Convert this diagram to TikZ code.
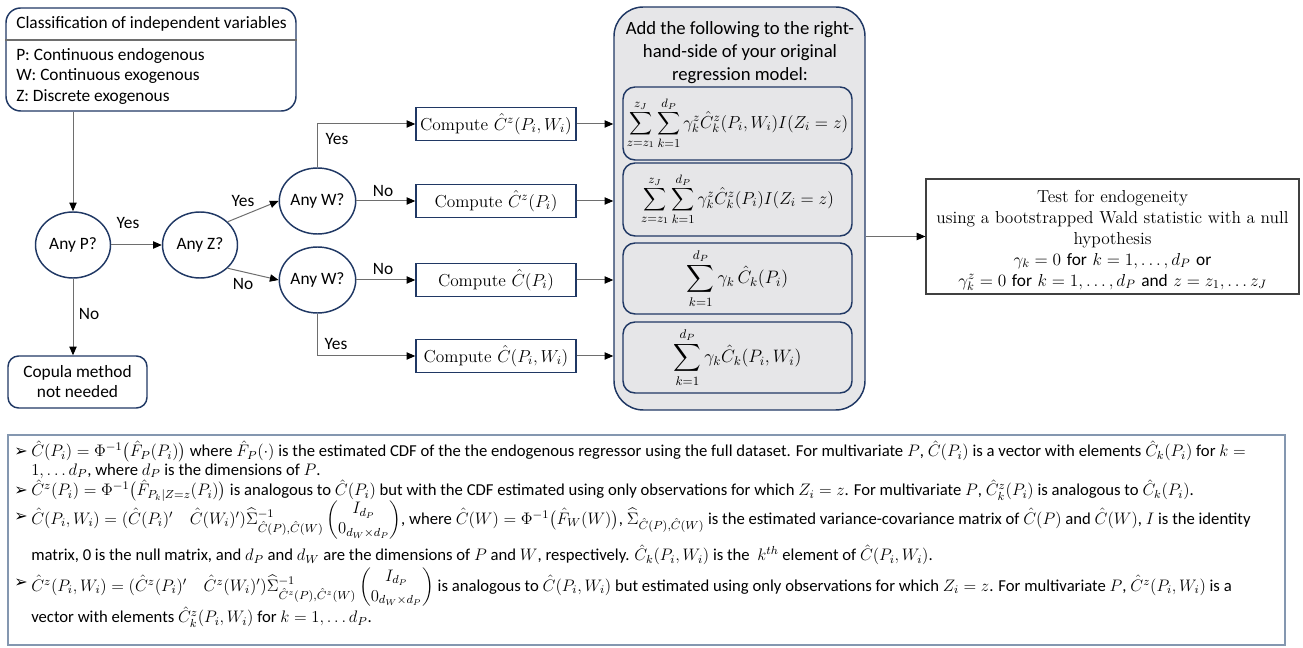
\RequirePackage{fix-cm}
\documentclass[tikz,border=0pt]{standalone}
\usepackage{amsmath}
\usepackage{fontspec}
\setsansfont{Carlito}
\newfontfamily\dejavu{DejaVu Sans}
\usetikzlibrary{shapes.geometric,arrows.meta,calc}
\definecolor{navy}{HTML}{203864}
\definecolor{panelfill}{HTML}{E6E6E8}
\definecolor{linegray}{HTML}{6E6E6E}
\definecolor{notecol}{HTML}{8497B0}
\definecolor{boxgray}{HTML}{404040}
\begin{document}
\begin{tikzpicture}[x=0.75pt,y=-0.75pt,
  every node/.style={font=\sffamily\fontsize{13}{15}\selectfont, inner sep=0pt},
  decision/.style={ellipse, draw=navy, line width=1.1pt, minimum width=56.25pt, minimum height=49.5pt, inner sep=0pt},
  arr/.style={draw=linegray, line width=0.75pt, -{Triangle[length=6.5pt,width=5.5pt,color=black]}},
  lbl/.style={font=\sffamily\fontsize{13}{15}\selectfont},
  compbox/.style={draw=navy, line width=1.1pt, minimum width=120pt, minimum height=24.75pt, font=\rmfamily\fontsize{13}{15}\selectfont},
  innerbox/.style={draw=navy, line width=1.1pt, rounded corners=9pt, fill=panelfill, minimum width=171.75pt, font=\sffamily\fontsize{13}{15}\selectfont},
  noteline/.style={anchor=west, font=\sffamily\fontsize{12.5}{15}\selectfont},
  bullet/.style={font=\dejavu\fontsize{12}{14}\selectfont}
]
\useasboundingbox (0,0) rectangle (1303,648);

% classification box
\node[draw=navy, line width=1.1pt, rounded corners=11pt, minimum width=217.5pt, minimum height=77.25pt] (cls) at (151,59.5) {};
\draw[linegray, line width=0.8pt] (cls.west |- 0,40) -- (cls.east |- 0,40);
\node[anchor=west] (clsT) at (16,24) {Classification of independent variables};
\node[anchor=west] (clsP) at (16,56) {P: Continuous endogenous};
\node[anchor=west] (clsW) at (16,76) {W: Continuous exogenous};
\node[anchor=west] (clsZ) at (16,97) {Z: Discrete exogenous};

% decisions
\node[decision] (anyP) at (73,245) {Any P?};
\node[decision] (anyZ) at (200,245) {Any Z?};
\node[decision] (w1) at (317.5,201) {Any W?};
\node[decision] (w2) at (317.5,280) {Any W?};
\node[draw=navy, line width=1.1pt, rounded corners=8pt, minimum width=104.25pt, minimum height=39pt, align=center] (cop) at (77.5,382) {Copula method\\not needed};

% compute boxes
\node[compbox] (c1) at (496,124) {Compute $\hat{C}^z(P_i,W_i)$};
\node[compbox] (c2) at (496,201) {Compute $\hat{C}^z(P_i)$};
\node[compbox] (c3) at (496,280) {Compute $\hat{C}(P_i)$};
\node[compbox] (c4) at (496,356) {Compute $\hat{C}(P_i,W_i)$};

% panel
\node[draw=navy, line width=1.1pt, fill=panelfill, rounded corners=22pt, minimum width=188.25pt, minimum height=302.25pt] (panel) at (739.5,208.5) {};
\node[align=center, font=\sffamily\fontsize{14}{17.25}\selectfont] (hdr) at (740,53) {Add the following to the right-\\hand-side of your original\\regression model:};
\node[innerbox, minimum height=54.75pt] (f1) at (737.5,123.5) {$\displaystyle\sum_{z=z_1}^{z_J}\sum_{k=1}^{d_P}\gamma_k^z\hat{C}_k^z(P_i,W_i)I(Z_i=z)$};
\node[innerbox, minimum height=54.75pt] (f2) at (737.5,199.5) {$\displaystyle\sum_{z=z_1}^{z_J}\sum_{k=1}^{d_P}\gamma_k^z\hat{C}_k^z(P_i)I(Z_i=z)$};
\node[innerbox, minimum height=53.25pt, font=\sffamily\fontsize{13.5}{16}\selectfont] (f3) at (737.5,278.5) {$\displaystyle\sum_{k=1}^{d_P}\gamma_k\,\hat{C}_k(P_i)$};
\node[innerbox, minimum height=53.25pt, font=\sffamily\fontsize{13.5}{16}\selectfont] (f4) at (737.5,357.5) {$\displaystyle\sum_{k=1}^{d_P}\gamma_k\hat{C}_k(P_i,W_i)$};

% test box
\node[draw=boxgray, line width=0.9pt, minimum width=279.75pt, minimum height=86.25pt] (test) at (1112.5,236.5) {};
\node[align=center, font=\rmfamily\fontsize{13}{15.75}\selectfont] (testT) at (1112.5,240.5)
 {Test for endogeneity\\using a bootstrapped Wald statistic with a null\\hypothesis\\
  $\gamma_k=0$ {\sffamily for} $k=1,\ldots,d_P$ {\sffamily or}\\
  $\gamma_k^z=0$ {\sffamily for} $k=1,\ldots,d_P$ {\sffamily and} $z=z_1,\ldots z_J$};

% connectors
\draw[arr] (cls.south -| anyP.north) -- (anyP.north);
\draw[arr] (anyP.east) -- (anyZ.west);
\draw[arr] (anyP.south) -- (cop.north -| anyP.south);
\draw[arr] (anyZ.40) -- (w1.west);
\draw[arr] (anyZ.-40) -- (w2.west);
\draw[arr] (w1.north) |- (c1.west);
\draw[arr] (w1.east) -- (c2.west);
\draw[arr] (w2.east) -- (c3.west);
\draw[arr] (w2.south) |- (c4.west);
\draw[arr] (c1.east) -- (c1.east -| panel.west);
\draw[arr] (c2.east) -- (c2.east -| panel.west);
\draw[arr] (c3.east) -- (c3.east -| panel.west);
\draw[arr] (c4.east) -- (c4.east -| panel.west);
\draw[arr] (panel.east |- test.west) -- (test.west);

% labels
\node[lbl] (yPZ) at (128,223) {Yes};
\node[lbl] (nP) at (89,314) {No};
\node[lbl] (yZ) at (243,201) {Yes};
\node[lbl] (nZ) at (243,284) {No};
\node[lbl] (yW1) at (337,139) {Yes};
\node[lbl] (nW1) at (383,191) {No};
\node[lbl] (nW2) at (383,269) {No};
\node[lbl] (yW2) at (336,344) {Yes};

% notes
\node[draw=notecol, line width=1.1pt, minimum width=957.75pt, minimum height=157.5pt] (notes) at (646.5,540) {};
\node[bullet] (b1) at (21,452) {➢};
\node[noteline] (t1) at (31,452) {$\hat{C}(P_i)=\Phi^{-1}\big(\hat{F}_P(P_i)\big)$ where $\hat{F}_P(\cdot)$ is the estimated CDF of the the endogenous regressor using the full dataset. For multivariate $P$, $\hat{C}(P_i)$ is a vector with elements $\hat{C}_k(P_i)$ for $k={}$};
\node[noteline] (t1b) at (31,471) {$1,\ldots d_P$, where $d_P$ is the dimensions of $P$.};
\node[bullet] (b2) at (21,491) {➢};
\node[noteline] (t2) at (31,491) {$\hat{C}^z(P_i)=\Phi^{-1}\big(\hat{F}_{P_k|Z=z}(P_i)\big)$ is analogous to $\hat{C}(P_i)$ but with the CDF estimated using only observations for which $Z_i=z$. For multivariate $P$, $\hat{C}_k^z(P_i)$ is analogous to $\hat{C}_k(P_i)$.};
\node[bullet] (b3) at (21,517) {➢};
\node[noteline] (t3) at (31,520) {$\hat{C}(P_i,W_i)=(\hat{C}(P_i)'\quad\hat{C}(W_i)')\widehat{\Sigma}^{-1}_{\hat{C}(P),\hat{C}(W)}\begin{pmatrix}I_{d_P}\\0_{d_W\times d_P}\end{pmatrix}$, where $\hat{C}(W)=\Phi^{-1}\big(\hat{F}_W(W)\big)$, $\widehat{\Sigma}_{\hat{C}(P),\hat{C}(W)}$ is the estimated variance-covariance matrix of $\hat{C}(P)$ and $\hat{C}(W)$, $I$ is the identity};
\node[noteline] (t3b) at (31,555) {matrix, 0 is the null matrix, and $d_P$ and $d_W$ are the dimensions of $P$ and $W$, respectively. $\hat{C}_k(P_i,W_i)$ is the \ $k^{th}$ element of $\hat{C}(P_i,W_i)$.};
\node[bullet] (b4) at (21,583) {➢};
\node[noteline] (t4) at (31,587) {$\hat{C}^z(P_i,W_i)=(\hat{C}^z(P_i)'\quad\hat{C}^z(W_i)')\widehat{\Sigma}^{-1}_{\hat{C}^z(P),\hat{C}^z(W)}\begin{pmatrix}I_{d_P}\\0_{d_W\times d_P}\end{pmatrix}$ is analogous to $\hat{C}(P_i,W_i)$ but estimated using only observations for which $Z_i=z$. For multivariate $P$, $\hat{C}^z(P_i,W_i)$ is a};
\node[noteline] (t4b) at (31,617) {vector with elements $\hat{C}_k^z(P_i,W_i)$ for $k=1,\ldots d_P$.};
\end{tikzpicture}
\end{document}
